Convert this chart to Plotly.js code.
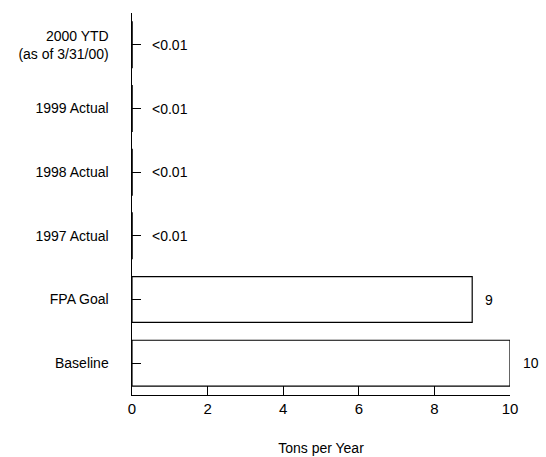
<!DOCTYPE html>
<html>
<head>
<meta charset="utf-8">
<script src="https://cdn.plot.ly/plotly-3.0.1.min.js"></script>
<style>
html, body { margin: 0; padding: 0; background: #fff; }
#chart { width: 546px; height: 457px; }
</style>
</head>
<body>
<div id="chart"></div>
<script>
// Data (bottom to top)
const categories = ["Baseline", "FPA Goal", "1997 Actual", "1998 Actual", "1999 Actual", "2000 YTD<br>(as of 3/31/00)"];
const values = [10, 9, 0.005, 0.005, 0.005, 0.005];
const valueLabels = ["10", "9", "<0.01", "<0.01", "<0.01", "<0.01"];
const xTicks = [0, 2, 4, 6, 8, 10];

const FONT = "Liberation Sans, Arial, Helvetica, sans-serif";

const trace = {
  type: "bar",
  orientation: "h",
  y: categories,
  x: values,
  width: 0.72,
  marker: { color: "#ffffff", line: { color: "#000000", width: 1.2 } },
  hoverinfo: "none",
  showlegend: false
};

const annotations = categories.map((c, i) => ({
  x: values[i],
  y: c,
  xref: "x",
  yref: "y",
  text: valueLabels[i],
  showarrow: false,
  xanchor: "left",
  yanchor: "middle",
  xshift: values[i] < 1 ? 18 : 11,
  font: { family: FONT, size: 14, color: "#000" }
}));

const layout = {
  width: 546,
  height: 457,
  margin: { l: 132, r: 36, t: 13, b: 62 },
  paper_bgcolor: "#ffffff",
  plot_bgcolor: "#ffffff",
  font: { family: FONT, size: 14, color: "#000" },
  bargap: 0.28,
  xaxis: {
    range: [0, 10],
    tickvals: xTicks,
    ticktext: xTicks.map(String),
    ticks: "inside",
    ticklen: 9,
    tickwidth: 1,
    tickcolor: "#000",
    showline: true,
    linecolor: "#000",
    linewidth: 1,
    showgrid: false,
    zeroline: false,
    tickfont: { family: FONT, size: 15, color: "#000" },
    title: { text: "Tons per Year", font: { family: FONT, size: 14, color: "#000" }, standoff: 27 },
    fixedrange: true
  },
  yaxis: {
    type: "category",
    categoryorder: "array",
    categoryarray: categories,
    range: [-0.5, 5.5],
    ticks: "inside",
    ticklen: 9,
    tickwidth: 1,
    tickcolor: "#000",
    showline: true,
    linecolor: "#000",
    linewidth: 1.5,
    showgrid: false,
    zeroline: false,
    ticklabelstandoff: 19,
    tickfont: { family: FONT, size: 14, color: "#000" },
    fixedrange: true
  },
  annotations: annotations
};

Plotly.newPlot("chart", [trace], layout, { displayModeBar: false, staticPlot: true });
</script>
</body>
</html>
